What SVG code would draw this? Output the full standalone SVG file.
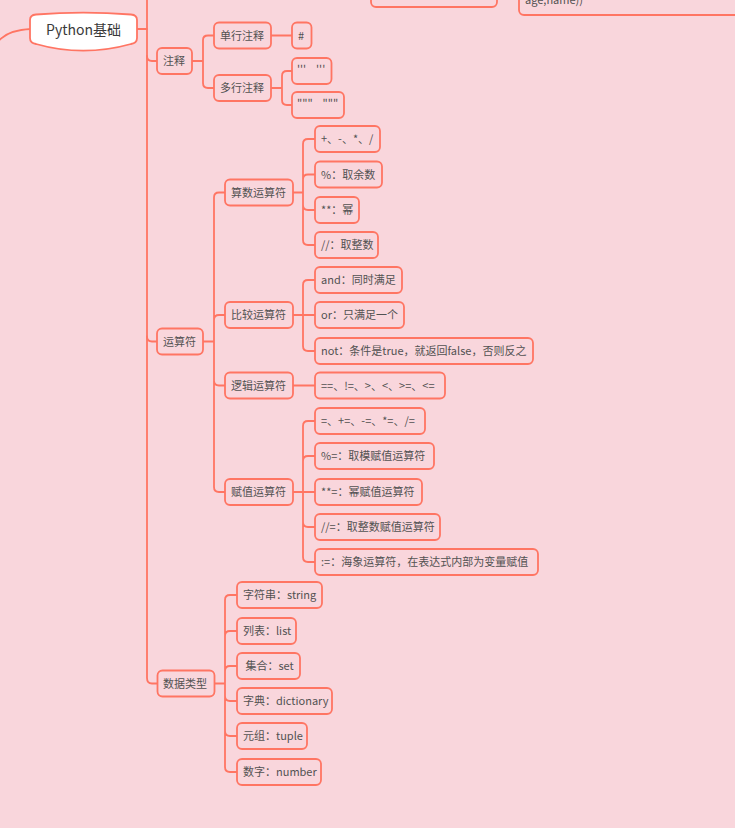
<svg xmlns="http://www.w3.org/2000/svg" width="735" height="828" viewBox="0 0 735 828">
<style>
.n{fill:#F9D6DC;stroke:#FF7563;stroke-width:1.8}
.t{font-family:"Noto Sans CJK SC","Noto Sans",sans-serif;font-size:11px;fill:#525252}
.c{fill:none;stroke:#FF7563;stroke-width:1.8;stroke-linecap:round}
</style>
<rect width="735" height="828" fill="#F9D6DC"/>
<g id="connectors">
<path class="c" d="M-5,46 Q4,30 31,29" stroke-width="3"/>
<path class="c" d="M137,29 H147" stroke-width="3"/>
<path class="c" d="M147,0 V678 Q147,683.5 152,683.5 H157"/>
<path class="c" d="M147,56 Q147,61 152,61 H157"/>
<path class="c" d="M147,336.5 Q147,341.5 152,341.5 H157"/>
<path class="c" d="M192,61 H203 M203,61 V40 Q203,35.5 208,35.5 H214 M203,61 V83 Q203,88 208,88 H214"/>
<path class="c" d="M271,35.5 H292"/>
<path class="c" d="M271,88 H282 M282,88 V76 Q282,71 287,71 H292 M282,88 V100 Q282,105 287,105 H292"/>
<path class="c" d="M203,341.5 H214 M214,341.5 V197.5 Q214,192.5 219,192.5 H225 M214,341.5 V320 Q214,315 219,315 H225 M214,341.5 V380.5 Q214,385.5 219,385.5 H225 M214,341.5 V487 Q214,492 219,492 H225"/>
<path class="c" d="M293,192.5 H303 M303,192.5 V144 Q303,139 308,139 H315 M303,192.5 V179.5 Q303,174.5 308,174.5 H315 M303,192.5 V205 Q303,210 308,210 H315 M303,192.5 V240 Q303,245 308,245 H315"/>
<path class="c" d="M293,315 H315 M303,315 V285 Q303,280 308,280 H315 M303,315 V346 Q303,351 308,351 H315"/>
<path class="c" d="M293,385.5 H315"/>
<path class="c" d="M293,492 H303 M303,492 V426 Q303,421 308,421 H315 M303,492 V461 Q303,456 308,456 H315 M303,492 H315 M303,492 V522 Q303,527 308,527 H315 M303,492 V557 Q303,562 308,562 H315"/>
<path class="c" d="M214,683.5 H225 M225,683.5 V600 Q225,595 230,595 H237 M225,683.5 V636 Q225,631 230,631 H237 M225,683.5 V671 Q225,666 230,666 H237 M225,683.5 V696 Q225,701 230,701 H237 M225,683.5 V731 Q225,736 230,736 H237 M225,683.5 V767 Q225,772 230,772 H237"/>
</g>
<g id="top-partial">
<rect class="n" x="371" y="-30" width="126" height="37" rx="5"/>
<rect class="n" x="519" y="-30" width="230" height="45" rx="5"/>
<text class="t" x="525" y="4">age,name))</text>
</g>
<g id="root">
<path d="M30,20 Q30,15 36,14.5 Q83,10.9 131,14.5 Q137,15 137,20 L137,38 Q137,43 131,44 Q83,57.4 36,44 Q30,43 30,38 Z" fill="#ffffff" stroke="#FF7563" stroke-width="1.8"/>
<text x="83.5" y="35" text-anchor="middle" font-family="'Noto Sans CJK SC','Noto Sans',sans-serif" font-size="14" fill="#3a3a3a">Python基础</text>
</g>
<g id="zhushi"><rect class="n" x="157" y="48" width="35" height="26" rx="5"/><text class="t" x="163" y="65">注释</text></g>
<g id="danhang"><rect class="n" x="214" y="22.5" width="57" height="26" rx="5"/><text class="t" x="220" y="39.5">单行注释</text></g>
<g id="duohang"><rect class="n" x="214" y="75" width="57" height="26" rx="5"/><text class="t" x="220" y="92">多行注释</text></g>
<g id="hash"><rect class="n" x="292" y="22.5" width="19.5" height="26" rx="5"/><text class="t" x="298" y="39.5">#</text></g>
<g id="sq"><rect class="n" x="292" y="58" width="39.5" height="26" rx="5"/><text class="t" x="297" y="73" xml:space="preserve">'''    '''</text></g>
<g id="dq"><rect class="n" x="292" y="92" width="52" height="26" rx="5"/><text class="t" x="297" y="107" xml:space="preserve">"""    """</text></g>

<g id="yunsuanfu"><rect class="n" x="157" y="328.5" width="46" height="26" rx="5"/><text class="t" x="163" y="345.5">运算符</text></g>
<g id="suanshu"><rect class="n" x="225" y="179.5" width="68" height="26" rx="5"/><text class="t" x="231" y="196.5">算数运算符</text></g>
<g id="bijiao"><rect class="n" x="225" y="302" width="68" height="26" rx="5"/><text class="t" x="231" y="319">比较运算符</text></g>
<g id="luoji"><rect class="n" x="225" y="372.5" width="68" height="26" rx="5"/><text class="t" x="231" y="389.5">逻辑运算符</text></g>
<g id="fuzhi"><rect class="n" x="225" y="479" width="68" height="26" rx="5"/><text class="t" x="231" y="496">赋值运算符</text></g>

<g id="s1"><rect class="n" x="315" y="126" width="65" height="26" rx="5"/><text class="t" x="321" y="143">+、-、*、/</text></g>
<g id="s2"><rect class="n" x="315" y="161.5" width="67" height="26" rx="5"/><text class="t" x="321" y="178.5">%：取余数</text></g>
<g id="s3"><rect class="n" x="315" y="197" width="44" height="26" rx="5"/><text class="t" x="321" y="214">**：幂</text></g>
<g id="s4"><rect class="n" x="315" y="232" width="63" height="26" rx="5"/><text class="t" x="321" y="249">//：取整数</text></g>

<g id="b1"><rect class="n" x="315" y="267" width="87" height="26" rx="5"/><text class="t" x="321" y="284">and：同时满足</text></g>
<g id="b2"><rect class="n" x="315" y="302" width="89" height="26" rx="5"/><text class="t" x="321" y="319">or：只满足一个</text></g>
<g id="b3"><rect class="n" x="315" y="338" width="218" height="26" rx="5"/><text class="t" x="321" y="355">not：条件是true，就返回false，否则反之</text></g>

<g id="l1"><rect class="n" x="315" y="372.5" width="130" height="26" rx="5"/><text class="t" x="321" y="389.5">==、!=、&gt;、&lt;、&gt;=、&lt;=</text></g>

<g id="f1"><rect class="n" x="315" y="408" width="110" height="26" rx="5"/><text class="t" x="321" y="425">=、+=、-=、*=、/=</text></g>
<g id="f2"><rect class="n" x="315" y="443" width="119" height="26" rx="5"/><text class="t" x="321" y="460">%=：取模赋值运算符</text></g>
<g id="f3"><rect class="n" x="315" y="479" width="107" height="26" rx="5"/><text class="t" x="321" y="496">**=：幂赋值运算符</text></g>
<g id="f4"><rect class="n" x="315" y="514" width="125" height="26" rx="5"/><text class="t" x="321" y="531">//=：取整数赋值运算符</text></g>
<g id="f5"><rect class="n" x="315" y="549" width="223" height="26" rx="5"/><text class="t" x="321" y="566">:=：海象运算符，在表达式内部为变量赋值</text></g>

<g id="shujuleixing"><rect class="n" x="157.5" y="670.5" width="57" height="26" rx="5"/><text class="t" x="163" y="687.5">数据类型</text></g>
<g id="d1"><rect class="n" x="237" y="582" width="85" height="26" rx="5"/><text class="t" x="243" y="599">字符串：string</text></g>
<g id="d2"><rect class="n" x="237" y="618" width="59" height="26" rx="5"/><text class="t" x="243" y="635">列表：list</text></g>
<g id="d3"><rect class="n" x="237" y="653" width="63" height="26" rx="5"/><text class="t" x="243" y="670" xml:space="preserve"> 集合：set</text></g>
<g id="d4"><rect class="n" x="237" y="688" width="95" height="26" rx="5"/><text class="t" x="243" y="705">字典：dictionary</text></g>
<g id="d5"><rect class="n" x="237" y="723" width="70" height="26" rx="5"/><text class="t" x="243" y="740">元组：tuple</text></g>
<g id="d6"><rect class="n" x="237" y="759" width="84" height="26" rx="5"/><text class="t" x="243" y="776">数字：number</text></g>
</svg>
